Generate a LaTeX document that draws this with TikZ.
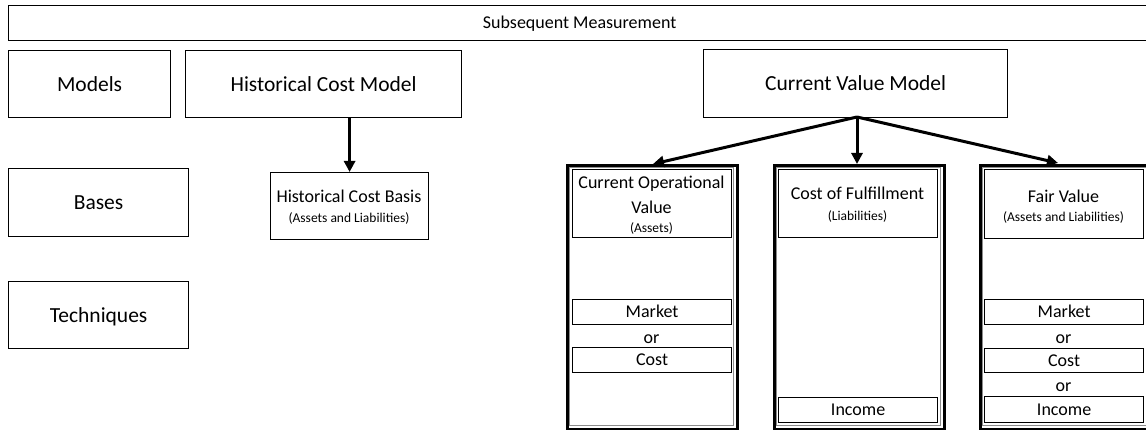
\documentclass[tikz,border=0pt]{standalone}
\usepackage{fontspec}
\setmainfont{Carlito}
\usetikzlibrary{arrows.meta}
\begin{document}
\begin{tikzpicture}[x=1pt,y=-1pt,
  box/.style={draw=black, line width=1.2pt, inner sep=0pt, anchor=north west},
  big/.style={font=\fontsize{21.5}{26}\selectfont, text height=13.9pt, text depth=0pt},
  mid/.style={font=\fontsize{18}{22}\selectfont, text height=11.6pt, text depth=0pt},
  small/.style={font=\fontsize{13.5}{16}\selectfont, text height=8.7pt, text depth=0pt},
  lbl/.style={inner sep=0pt},
  col/.style={draw=black, line width=3.2pt, anchor=north west, inner sep=0pt},
  colin/.style={draw=black!45, line width=0.7pt},
  arr/.style={line width=3pt, -{Triangle[length=11pt,width=11pt]}}
]
\useasboundingbox (0,0) rectangle (1146,430);

% header bar
\node[box,mid,minimum width=1142pt,minimum height=35pt] (top) at (8,5) {Subsequent Measurement};

% row labels
\node[box,big,minimum width=162pt,minimum height=67pt] (models) at (8,50) {Models};
\node[box,big,minimum width=180pt,minimum height=68pt] (bases) at (8,168) {Bases};
\node[box,big,minimum width=180pt,minimum height=67pt] (tech) at (8,281) {Techniques};

% models
\node[box,big,minimum width=276pt,minimum height=67pt] (hcm) at (185,50) {Historical Cost Model};
\node[box,big,minimum width=304pt,minimum height=68pt] (cvm) at (703,49) {Current Value Model};

% historical cost basis
\node[box,minimum width=158pt,minimum height=67pt] (hcb) at (270,172) {};
\node[lbl,mid] (hcbt) at (349,197) {Historical Cost Basis};
\node[lbl,small] (hcbs) at (349,218) {(Assets and Liabilities)};

% columns
\node[col,minimum width=170pt,minimum height=264pt] (col1) at (566,164) {};
\node[col,minimum width=170pt,minimum height=264pt] (col2) at (773,164) {};
\node[col,minimum width=171pt,minimum height=264pt] (col3) at (979,164) {};
\draw[colin] (569,167) rectangle (733,425);
\draw[colin] (776,167) rectangle (940,425);
\draw[colin] (982,167) rectangle (1147,425);

% column 1
\node[box,minimum width=159pt,minimum height=68pt] (cov) at (572,169) {};
\node[lbl,mid] (covt1) at (651.5,183) {Current Operational};
\node[lbl,mid] (covt2) at (651.5,208) {Value};
\node[lbl,small] (covs) at (651.5,228) {(Assets)};
\node[box,mid,minimum width=159pt,minimum height=25pt] (m1) at (572,299) {Market};
\node[lbl,mid] (or1) at (651.5,338) {or};
\node[box,mid,minimum width=159pt,minimum height=25pt] (c1) at (572,347) {Cost};

% column 2
\node[box,minimum width=159pt,minimum height=68pt] (cof) at (778,169) {};
\node[lbl,mid] (coft) at (857.5,194) {Cost of Fulfillment};
\node[lbl,small] (cofs) at (857.5,216) {(Liabilities)};
\node[box,mid,minimum width=159pt,minimum height=25pt] (i2) at (778,397) {Income};

% column 3
\node[box,minimum width=159pt,minimum height=69pt] (fv) at (984,169) {};
\node[lbl,mid] (fvt) at (1063.5,197) {Fair Value};
\node[lbl,small] (fvs) at (1063.5,217) {(Assets and Liabilities)};
\node[box,mid,minimum width=159pt,minimum height=25pt] (m3) at (984,299) {Market};
\node[lbl,mid] (or3a) at (1063.5,338) {or};
\node[box,mid,minimum width=159pt,minimum height=24pt] (c3) at (984,348) {Cost};
\node[lbl,mid] (or3b) at (1063.5,386) {or};
\node[box,mid,minimum width=159pt,minimum height=26pt] (i3) at (984,396) {Income};

% arrows
\draw[arr] (hcb.north |- hcm.south) -- (hcb.north);
\coordinate (cvmb) at (857,117);
\coordinate (t1) at (653,164);
\coordinate (t3) at (1058,163);
\draw[arr] (cvmb) -- (t1);
\draw[arr] (cvmb) -- (cvmb |- col2.north);
\draw[arr] (cvmb) -- (t3);
\end{tikzpicture}
\end{document}
